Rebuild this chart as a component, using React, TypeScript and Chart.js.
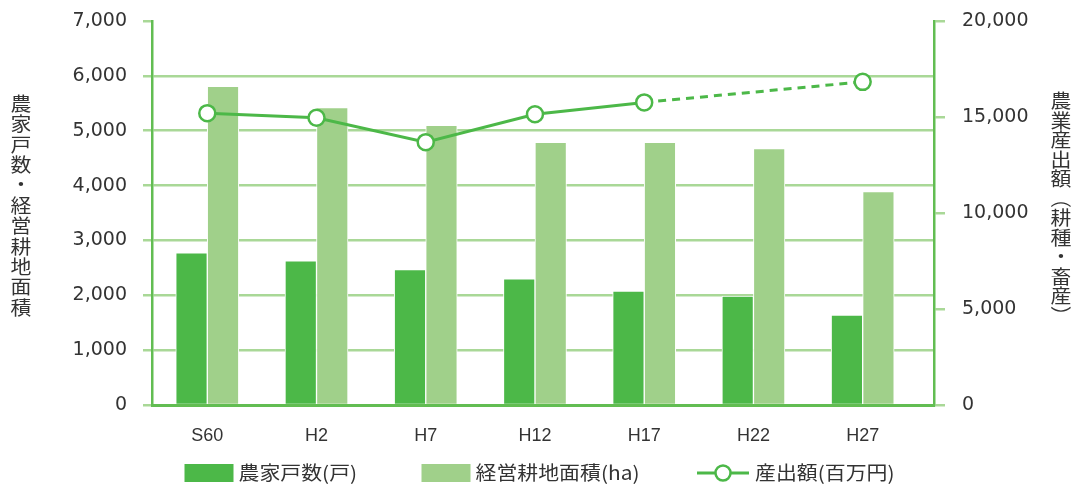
import React, { useEffect, useRef } from 'react';
import { Chart, registerables } from 'chart.js';

Chart.register(...registerables);

// ---- data ----
const categories = ['S60', 'H2', 'H7', 'H12', 'H17', 'H22', 'H27'];
const households = [2775, 2630, 2470, 2300, 2075, 1985, 1640];
const farmland = [5810, 5420, 5100, 4790, 4790, 4675, 3890];
const outputValues: (number | null)[] = [15200, 14960, 13690, 15140, 15760, null, 16830];

const seriesLabels = ['農家戸数(戸)', '経営耕地面積(ha)', '産出額(百万円)'];
const leftTitle = '農家戸数・経営耕地面積';
const rightTitle = '農業産出額（耕種・畜産）';

const leftMax = 7000;
const leftStep = 1000;
const rightMax = 20000;
const rightStep = 5000;

// ---- styles ----
const darkGreen = '#4cb848';
const lightGreen = '#a0d08a';
const gridColor = '#a9d897';
const axisColor = '#62bd52';
const textColor = '#333333';
const cjkFont = '"Noto Sans CJK JP", "Noto Sans", sans-serif';

function drawVertical(ctx: CanvasRenderingContext2D, text: string, cx: number, startY: number, pitch: number) {
  Array.from(text).forEach((ch, i) => {
    ctx.save();
    ctx.translate(cx, startY + i * pitch);
    ctx.scale(1.1, 1);
    if (ch === '（' || ch === '）') ctx.rotate(Math.PI / 2);
    ctx.fillText(ch, 0, 0);
    ctx.restore();
  });
}

const decorPlugin = {
  id: 'decor',
  afterDraw(chart: any) {
    const ctx: CanvasRenderingContext2D = chart.ctx;
    ctx.save();
    ctx.fillStyle = textColor;
    ctx.textAlign = 'center';
    ctx.textBaseline = 'middle';
    ctx.font = `19px ${cjkFont}`;
    drawVertical(ctx, leftTitle, 21, 103.5, 20.4);
    drawVertical(ctx, rightTitle, 1061, 101, 19.5);

    // legend
    const ds = chart.data.datasets;
    const legY = 473;
    const items = [
      { x: 184.5, kind: 'box', color: ds[1].backgroundColor, label: ds[1].label },
      { x: 421.5, kind: 'box', color: ds[2].backgroundColor, label: ds[2].label },
      { x: 697, kind: 'line', color: ds[0].borderColor, label: ds[0].label },
    ];
    items.forEach((it) => {
      if (it.kind === 'box') {
        ctx.fillStyle = it.color;
        ctx.fillRect(it.x, legY - 9, 49, 18);
      } else {
        ctx.strokeStyle = it.color;
        ctx.lineWidth = 3;
        ctx.beginPath();
        ctx.moveTo(it.x, legY);
        ctx.lineTo(it.x + 52, legY);
        ctx.stroke();
        ctx.beginPath();
        ctx.arc(it.x + 26, legY, 7.5, 0, Math.PI * 2);
        ctx.fillStyle = '#ffffff';
        ctx.fill();
        ctx.lineWidth = 2.5;
        ctx.stroke();
      }
      ctx.fillStyle = textColor;
      ctx.textAlign = 'left';
      ctx.save();
      const tx = it.kind === 'box' ? it.x + 54 : it.x + 58;
      ctx.translate(tx, legY);
      ctx.scale(1.1, 1);
      ctx.fillText(it.label, 0, 0);
      ctx.restore();
    });
    ctx.restore();
  },
};

export default function App() {
  const canvasRef = useRef<HTMLCanvasElement | null>(null);

  useEffect(() => {
    const canvas = canvasRef.current;
    if (!canvas) return;
    const tickFont = { family: '"DejaVu Sans", sans-serif', size: 19 };
    const chart = new Chart(canvas, {
      type: 'bar',
      data: {
        datasets: [
          {
            type: 'line',
            label: seriesLabels[2],
            yAxisID: 'y2',
            order: 0,
            data: outputValues
              .map((v, i) => (v === null ? null : { x: i, y: v }))
              .filter((p) => p !== null) as any,
            borderColor: darkGreen,
            backgroundColor: '#ffffff',
            borderWidth: 3,
            pointRadius: 8,
            pointBorderWidth: 2.5,
            pointBackgroundColor: '#ffffff',
            pointBorderColor: darkGreen,
            tension: 0,
            segment: {
              borderDash: (c: any) => (c.p1.parsed.x - c.p0.parsed.x > 1 ? [8, 6] : undefined),
            },
          } as any,
          {
            type: 'bar',
            label: seriesLabels[0],
            yAxisID: 'y',
            order: 1,
            data: households.map((v, i) => ({ x: i, y: v })) as any,
            backgroundColor: darkGreen,
            borderColor: '#ffffff',
            borderWidth: 1,
            barThickness: 31.5,
          },
          {
            type: 'bar',
            label: seriesLabels[1],
            yAxisID: 'y',
            order: 2,
            data: farmland.map((v, i) => ({ x: i, y: v })) as any,
            backgroundColor: lightGreen,
            borderColor: '#ffffff',
            borderWidth: 1,
            barThickness: 31.5,
          },
        ],
      },
      options: {
        responsive: false,
        animation: false,
        devicePixelRatio: 1,
        layout: { padding: { top: 21, left: 0, right: 0, bottom: 0 } },
        plugins: { legend: { display: false }, tooltip: { enabled: false } },
        scales: {
          x: {
            type: 'linear',
            min: -0.506,
            max: 6.653,
            offset: false,
            grid: { display: false, drawTicks: false },
            border: { display: true, color: axisColor, width: 3 },
            afterBuildTicks: (s: any) => {
              s.ticks = categories.map((_, i) => ({ value: i }));
            },
            ticks: {
              autoSkip: false,
              maxRotation: 0,
              padding: 20,
              color: textColor,
              font: { family: '"Liberation Sans", sans-serif', size: 18 },
              callback: (v: any) => categories[v] ?? '',
            },
            afterFit: (s: any) => {
              s.height = 79;
              s.paddingLeft = 0;
              s.paddingRight = 0;
            },
          } as any,
          y: {
            position: 'left',
            min: 0,
            max: leftMax,
            ticks: {
              stepSize: leftStep,
              padding: 16,
              color: textColor,
              font: tickFont,
              callback: (v: any) => Number(v).toLocaleString('en-US'),
            },
            grid: {
              color: (c: any) => (c.tick && c.tick.value === leftMax ? 'rgba(0,0,0,0)' : gridColor),
              tickColor: gridColor,
              lineWidth: 2.5,
              tickLength: 9,
            },
            border: { color: axisColor, width: 2.5 },
            afterFit: (s: any) => {
              s.width = 152;
              s.paddingTop = 0;
              s.paddingBottom = 0;
            },
          } as any,
          y2: {
            position: 'right',
            min: 0,
            max: rightMax,
            ticks: {
              stepSize: rightStep,
              padding: 17,
              color: textColor,
              font: tickFont,
              callback: (v: any) => Number(v).toLocaleString('en-US'),
            },
            grid: { drawOnChartArea: false, color: gridColor, lineWidth: 2.5, tickLength: 11 },
            border: { color: axisColor, width: 2.5 },
            afterFit: (s: any) => {
              s.width = 140;
              s.paddingTop = 0;
              s.paddingBottom = 0;
            },
          } as any,
        },
      },
      plugins: [decorPlugin],
    });
    return () => chart.destroy();
  }, []);

  return (
    <div style={{ position: 'absolute', left: 0, top: 0, width: 1074, height: 484, background: '#fff' }}>
      <canvas ref={canvasRef} width={1074} height={484} style={{ display: 'block' }} />
    </div>
  );
}
